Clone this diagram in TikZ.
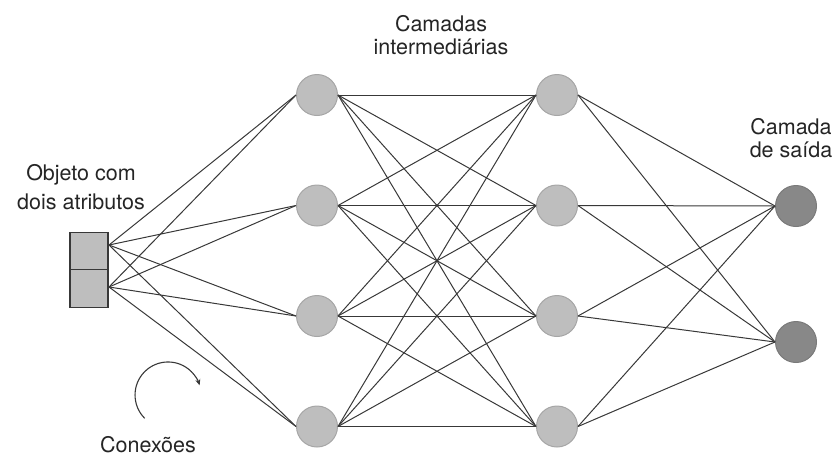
\documentclass[tikz,border=0pt]{standalone}
\usepackage{fontspec}
\setmainfont{TeX Gyre Heros}
\usetikzlibrary{arrows.meta}
\definecolor{linecol}{HTML}{383838}
\definecolor{hidfill}{HTML}{BEBEBE}
\definecolor{hiddraw}{HTML}{A6A6A6}
\definecolor{outfill}{HTML}{888888}
\definecolor{outdraw}{HTML}{7A7A7A}
\definecolor{txtcol}{HTML}{252525}
\tikzset{
  hidden/.style={circle, fill=hidfill, draw=hiddraw, line width=1pt, minimum size=41pt, inner sep=0pt},
  outnode/.style={circle, fill=outfill, draw=outdraw, line width=1pt, minimum size=41pt, inner sep=0pt},
  inbox/.style={rectangle, fill=hidfill, draw=linecol, line width=1.2pt, minimum width=38pt, minimum height=37.5pt, inner sep=0pt},
  conn/.style={draw=linecol, line width=1pt},
  lbl/.style={text=txtcol, align=center, inner sep=0pt},
}
\begin{document}
\begin{tikzpicture}[x=1pt, y=-1pt]
\useasboundingbox (0,0) rectangle (835,459);
% input boxes
\node[inbox] (box1) at (89,251) {};
\node[inbox] (box2) at (89,288.5) {};
\coordinate (in1) at (109,245);
\coordinate (in2) at (109,287);
% hidden layer 1
\node[hidden] (a1) at (317,95) {};
\node[hidden] (a2) at (317,205.5) {};
\node[hidden] (a3) at (317,316) {};
\node[hidden] (a4) at (317,426.5) {};
% hidden layer 2
\node[hidden] (b1) at (557,95) {};
\node[hidden] (b2) at (557,205.5) {};
\node[hidden] (b3) at (557,316) {};
\node[hidden] (b4) at (557,426.5) {};
% output
\node[outnode] (c1) at (796,206) {};
\node[outnode] (c2) at (796,342) {};
% connections
\foreach \i in {1,2}{
  \foreach \j in {1,...,4}{
    \draw[conn] (in\i) -- (a\j.west);
  }
}
\foreach \i in {1,...,4}{
  \foreach \j in {1,...,4}{
    \draw[conn] (a\i.east) -- (b\j.west);
  }
}
\foreach \i in {1,...,4}{
  \foreach \j in {1,2}{
    \draw[conn] (b\i.east) -- (c\j.west);
  }
}
% labels
\node[lbl, font=\fontsize{21.5}{29}\selectfont] (lobj) at (81,187) {Objeto com\\dois atributos};
\node[lbl, font=\fontsize{21.5}{23}\selectfont] (lcam) at (441,35) {Camadas\\intermediárias};
\node[lbl, font=\fontsize{21.5}{23}\selectfont] (lsai) at (791,138) {Camada\\de saída};
\node[lbl, font=\fontsize{21.5}{23}\selectfont, anchor=base] (lcon) at (148,452) {Conexões};
% curved arrow
\coordinate (arcstart) at (144.7,418.3);
\draw[draw=linecol, line width=1.1pt, -{Stealth[length=6pt,width=5pt]}] (arcstart) arc[start angle=135, end angle=343, radius=33];
\end{tikzpicture}
\end{document}
